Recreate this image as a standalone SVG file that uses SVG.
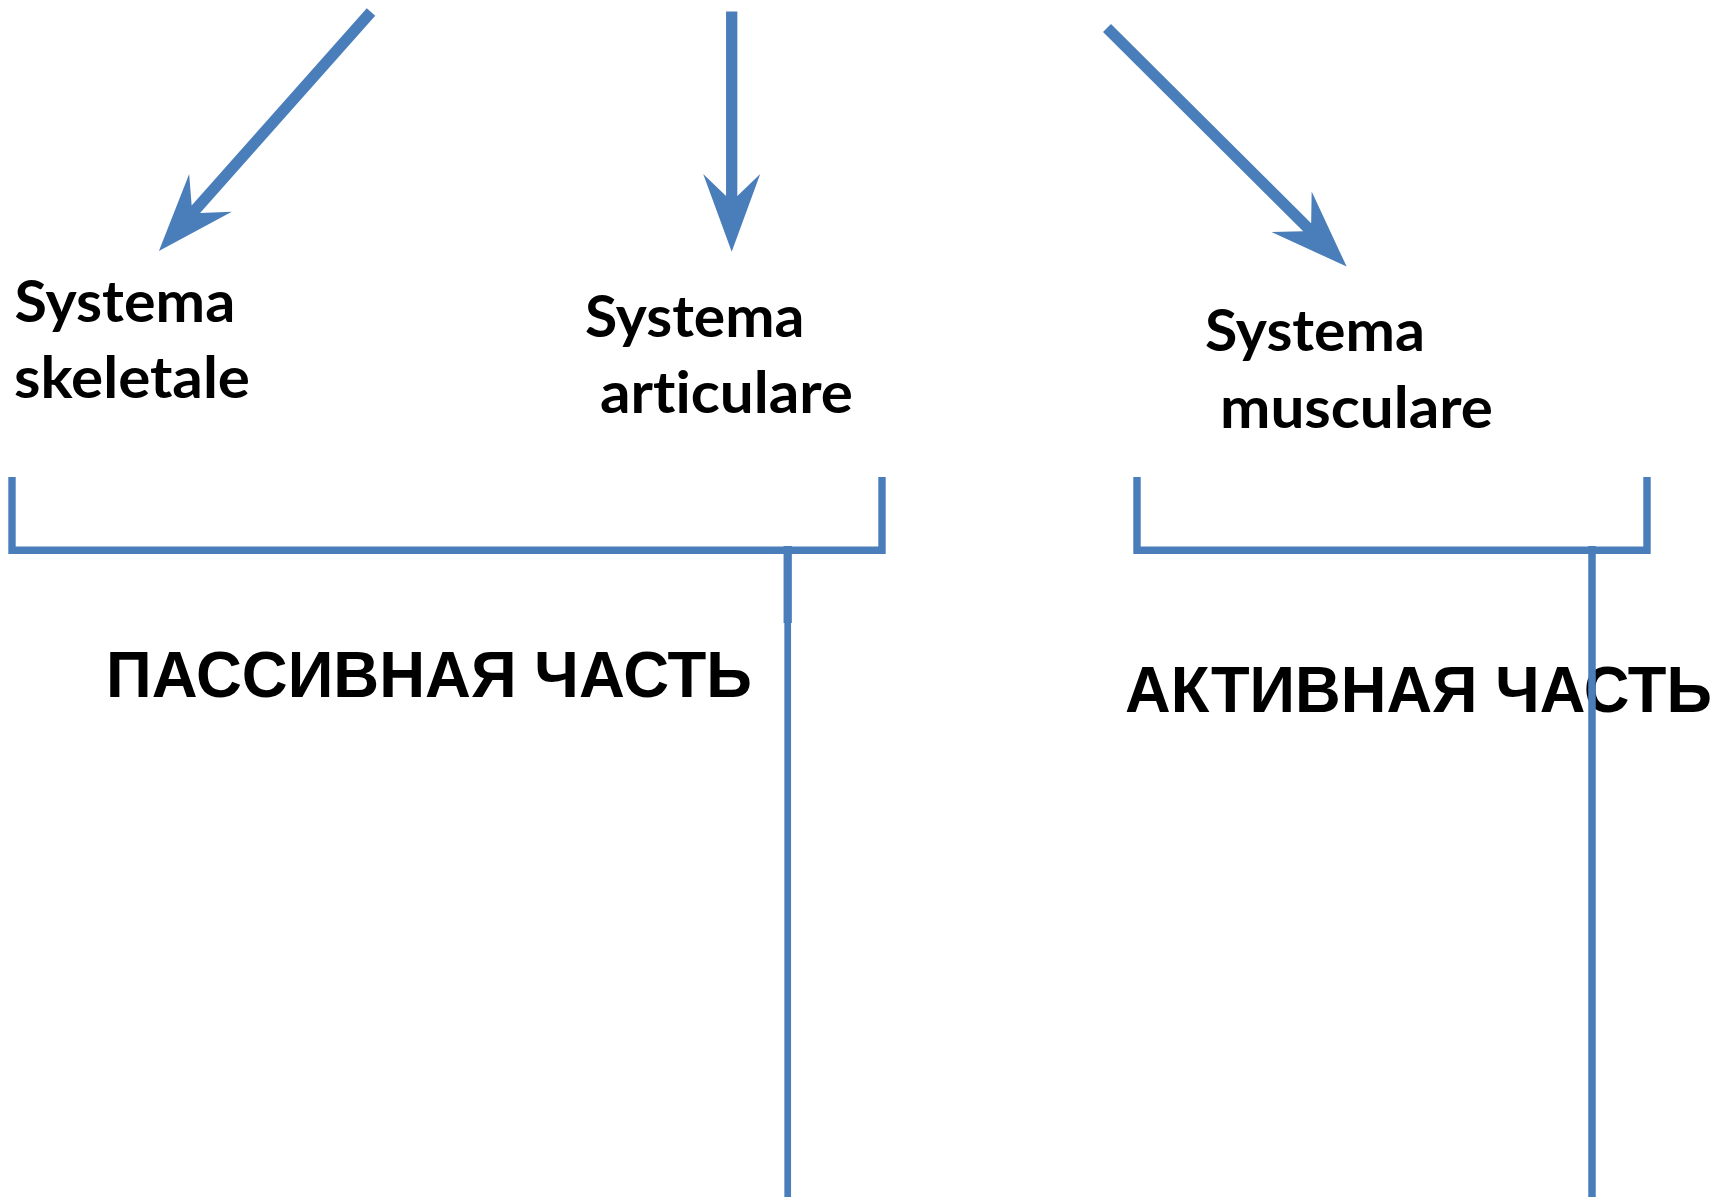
<svg xmlns="http://www.w3.org/2000/svg" width="1721" height="1197" viewBox="0 0 1721 1197">
  <style>
    .lat { font-family: Lato, "Open Sans", "Noto Sans", sans-serif; font-weight: 700; font-size: 56.5px; fill: #000; font-variant-ligatures: none; }
    .cap { font-family: "Liberation Sans", Arial, sans-serif; font-weight: 700; font-size: 64px; fill: #000; }
    .arrow { fill: none; stroke: #4A7EBB; stroke-width: 11.3; stroke-linecap: butt; }
    .brk { fill: none; stroke: #4A7EBB; stroke-width: 7.4; stroke-linejoin: miter; stroke-linecap: butt; }
    .stem { fill: none; stroke: #4A7EBB; stroke-linecap: butt; }
  </style>
  <defs>
    <marker id="head" markerUnits="userSpaceOnUse" orient="auto" refX="0" refY="0" markerWidth="200" markerHeight="200" viewBox="-100 -100 200 200" overflow="visible">
      <path d="M50,0 L-27.7,-28.5 L-5.7,-5.65 L-5.7,5.65 L-27.7,28.5 Z" fill="#4A7EBB"/>
    </marker>
  </defs>
  <rect width="1721" height="1197" fill="#fff"/>

  <g id="node-skeletale">
    <text class="lat" x="14.5" y="321.5" textLength="220.7" lengthAdjust="spacingAndGlyphs">Systema</text>
    <text class="lat" x="14" y="398" textLength="236" lengthAdjust="spacingAndGlyphs">skeletale</text>
  </g>
  <g id="node-articulare">
    <text class="lat" x="585" y="336.8" textLength="219.5" lengthAdjust="spacingAndGlyphs">Systema</text>
    <text class="lat" x="600" y="413" textLength="253" lengthAdjust="spacingAndGlyphs">articulare</text>
  </g>
  <g id="node-musculare">
    <text class="lat" x="1205" y="351.3" textLength="220" lengthAdjust="spacingAndGlyphs">Systema</text>
    <text class="lat" x="1220" y="428" textLength="273" lengthAdjust="spacingAndGlyphs">musculare</text>
  </g>
  <g id="node-passive">
    <text class="cap" x="106" y="696.7" textLength="646" lengthAdjust="spacingAndGlyphs">ПАССИВНАЯ ЧАСТЬ</text>
  </g>
  <g id="node-active">
    <text class="cap" x="1125" y="711.5" textLength="587" lengthAdjust="spacingAndGlyphs">АКТИВНАЯ ЧАСТЬ</text>
  </g>

  <g id="connectors">
    <line class="arrow" x1="371" y1="12" x2="192.1" y2="213.6" marker-end="url(#head)"/>
    <line class="arrow" x1="731.7" y1="11.5" x2="731.7" y2="201.7" marker-end="url(#head)"/>
    <line class="arrow" x1="1107" y1="28" x2="1311.2" y2="231.3" marker-end="url(#head)"/>

    <path class="brk" d="M12,477 V550.3 H882 V477"/>
    <path class="brk" d="M1137,477 V550.3 H1647 V477"/>

    <path class="stem" d="M787.7,546 V623" stroke-width="8.3"/>
    <path class="stem" d="M787.7,622 V1197" stroke-width="6.7"/>
    <path class="stem" d="M1592,546 V1197" stroke-width="7.5"/>
  </g>
</svg>
